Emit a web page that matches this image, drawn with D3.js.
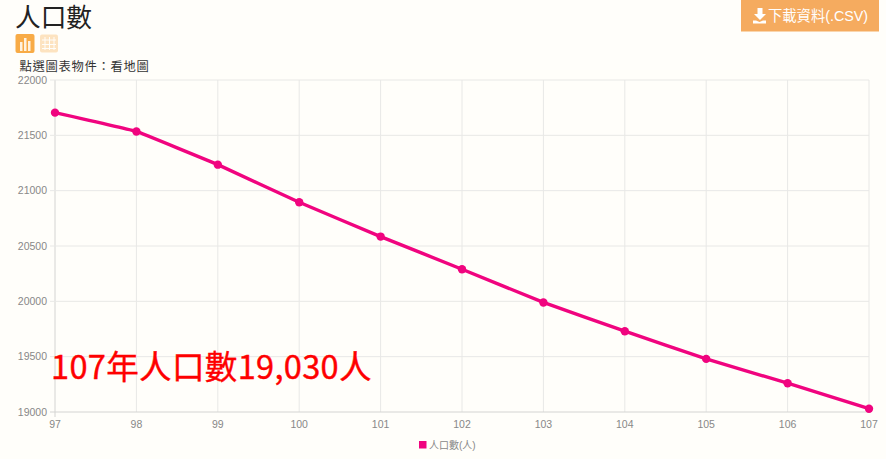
<!DOCTYPE html>
<html><head><meta charset="utf-8">
<script src="https://cdnjs.cloudflare.com/ajax/libs/d3/7.8.5/d3.min.js"></script>
<style>html,body{margin:0;padding:0;background:#fffefa;overflow:hidden}svg{display:block}</style>
</head><body><svg id="c" width="886" height="459"></svg>
<script>
const years=["97","98","99","100","101","102","103","104","105","106","107"];
const population=[21705,21535,21235,20895,20585,20290,19990,19730,19480,19260,19030];
const yTicks=[19000,19500,20000,20500,21000,21500,22000];
const seriesName="人口數(人)";
const titleText="人口數";
const noteText="點選圖表物件：看地圖";
const buttonText="下載資料(.CSV)";
const calloutText="107年人口數19,030人";
const cjk="'Liberation Sans','Noto Sans CJK TC',sans-serif";
const lat="'Liberation Sans','Noto Sans CJK TC',sans-serif";
const svg=d3.select("#c");
const x=d3.scalePoint().domain(years).range([55,869]);
const y=d3.scaleLinear().domain([19000,22000]).range([412,80]);
const grid=svg.append("g");
years.forEach(d=>grid.append("line").attr("x1",x(d)).attr("x2",x(d)).attr("y1",80).attr("y2",d==="97"?417:412).attr("stroke",d==="97"?"#d4d4d2":"#e8e8e6").attr("stroke-width",1));
yTicks.forEach(d=>grid.append("line").attr("x1",50).attr("x2",869).attr("y1",y(d)).attr("y2",y(d)).attr("stroke",d===19000?"#d4d4d2":"#e8e8e6").attr("stroke-width",1));
svg.append("g").selectAll("text").data(yTicks).join("text").attr("x",47).attr("y",d=>y(d)+3.5).attr("text-anchor","end").attr("font-family",lat).attr("font-size",10.5).attr("fill","#888").text(d=>d);
svg.append("g").selectAll("text").data(years).join("text").attr("x",d=>x(d)).attr("y",428).attr("text-anchor","middle").attr("font-family",lat).attr("font-size",10.5).attr("fill","#888").text(d=>d);
const line=d3.line().x((d,i)=>x(years[i])).y(d=>y(d)).curve(d3.curveCardinal.tension(0.85));
svg.append("path").datum(population).attr("d",line).attr("fill","none").attr("stroke","#f0047f").attr("stroke-width",3.4);
svg.append("g").selectAll("circle").data(population).join("circle").attr("cx",(d,i)=>x(years[i])).attr("cy",d=>y(d)).attr("r",4.2).attr("fill","#f0047f");
svg.append("text").attr("x",15).attr("y",27).attr("font-family",cjk).attr("font-size",25.7).attr("fill","#222").text(titleText);
// view-switch icons
const ic=svg.append("g");
ic.append("rect").attr("x",15.5).attr("y",34).attr("width",19).attr("height",19).attr("rx",2).attr("fill","#f8ab46");
[[20,42,2.5,9],[24,38,2.5,13],[28,41,2.5,10]].forEach(b=>ic.append("rect").attr("x",b[0]).attr("y",b[1]).attr("width",b[2]).attr("height",b[3]).attr("fill","#fff3e0"));
ic.append("rect").attr("x",40).attr("y",34.5).attr("width",18).attr("height",18).attr("rx",2).attr("fill","#fde3c0");
[44.5,49,53.5].forEach(v=>{ic.append("rect").attr("x",v).attr("y",37).attr("width",1).attr("height",13).attr("fill","#fffefa");});
[39.5,44,48].forEach(v=>{ic.append("rect").attr("x",42).attr("y",v).attr("width",14).attr("height",1).attr("fill","#fffefa");});
svg.append("text").attr("x",19.5).attr("y",71).attr("font-family",cjk).attr("font-size",12.3).attr("letter-spacing",0.7).attr("fill","#333").text(noteText);
// download button
svg.append("rect").attr("x",741).attr("y",-2).attr("width",138).attr("height",33.5).attr("fill","#f5ab5f");
svg.append("path").attr("d","M757.5 8h5v6h3.5l-6 6-6-6h3.5z M753 20.5h3l3.5 1.5 3.5-1.5h3v3h-13z").attr("fill","#fff");
svg.append("text").attr("x",768).attr("y",21).attr("font-family",lat).attr("font-size",14.3).attr("fill","#fff").text(buttonText);
// legend
svg.append("rect").attr("x",419).attr("y",441).attr("width",7.5).attr("height",7.5).attr("fill","#f0047f");
svg.append("text").attr("x",429).attr("y",449).attr("font-family",cjk).attr("font-size",10).attr("fill","#888").text(seriesName);
svg.append("text").attr("x",51).attr("y",379).attr("font-family","'Noto Sans CJK TC',sans-serif").attr("font-size",32.6).attr("font-weight",400).attr("letter-spacing",0.3).attr("stroke","#fe0000").attr("stroke-width",0.4).attr("fill","#fe0000").text(calloutText);
</script></body></html>
